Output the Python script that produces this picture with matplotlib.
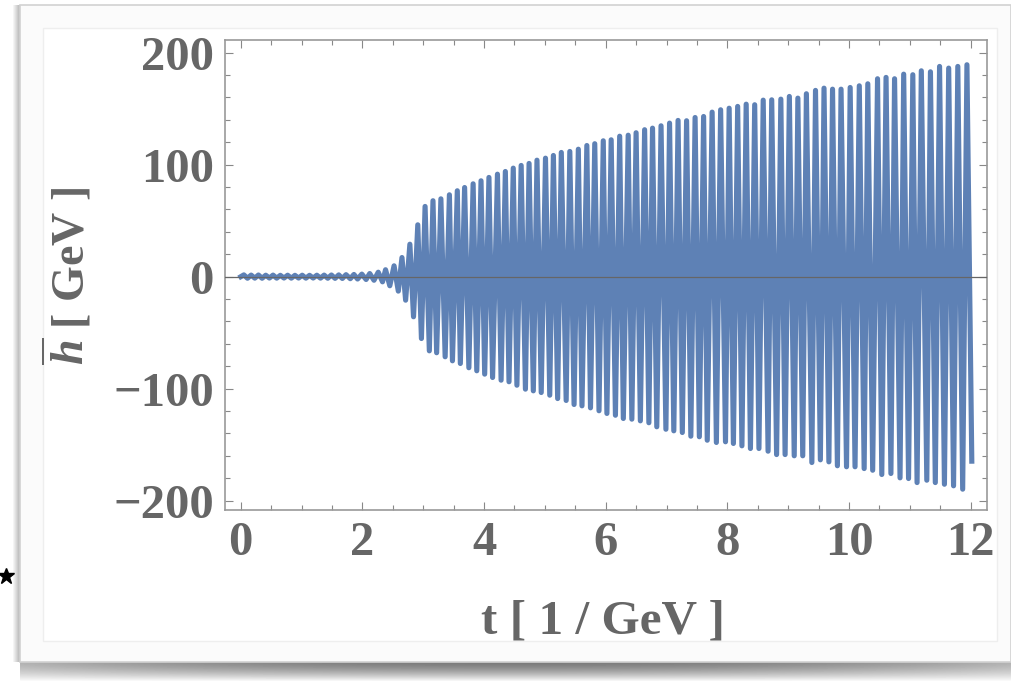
import numpy as np
import matplotlib
matplotlib.use("Agg")
import matplotlib.pyplot as plt
from matplotlib.ticker import MultipleLocator
from matplotlib.patches import Rectangle

# extrema of h-bar (t in 1/GeV, h in GeV)
t_up = [0.05, 0.17, 0.29, 0.41, 0.53, 0.65, 0.77, 0.89, 1.01, 1.13, 1.25, 1.37,
        1.49, 1.61, 1.73, 1.86, 1.99, 2.12, 2.26, 2.38, 2.52, 2.65, 2.78, 2.91,
        3.03, 3.16, 3.29, 3.43, 3.56, 3.68, 3.82, 3.95, 4.08, 4.22, 4.35, 4.48,
        4.61, 4.74, 4.87, 5.01, 5.14, 5.27, 5.41, 5.55, 5.69, 5.82, 5.96, 6.09,
        6.23, 6.37, 6.50, 6.64, 6.77, 6.91, 7.05, 7.19, 7.33, 7.47, 7.61,
        7.75, 7.89, 8.03, 8.17, 8.31, 8.45, 8.59, 8.73, 8.88, 9.02, 9.16, 9.30,
        9.45, 9.59, 9.73, 9.87, 10.02, 10.17, 10.31, 10.47, 10.61, 10.75, 10.90,
        11.05, 11.19, 11.34, 11.49, 11.64, 11.79, 11.94]
h_up = [1.6, 1.4, 1.5, 1.3, 1.4, 1.2, 1.3, 1.2, 1.3, 1.2, 1.3, 1.4,
        1.5, 1.6, 1.8, 2.0, 2.3, 2.8, 4.0, 6.2, 9.7, 17.1, 29.0, 46.3,
        62.7, 67.8, 69.5, 73.1, 76.7, 79.6, 82.9, 85.6, 88.6, 91.5, 93.9, 96.9,
        99.3, 101.1, 104.0, 105.8, 108.2, 110.9, 111.8, 113.8, 117.1, 118.7, 121.3, 122.2,
        125.4, 126.3, 128.5, 131.2, 132.6, 134.7, 137.1, 139.5, 139.2, 142.1, 143.0,
        146.9, 149.0, 150.4, 152.0, 154.0, 153.5, 157.6, 157.9, 158.5, 160.9, 159.4, 163.3,
        166.3, 168.3, 167.4, 167.4, 168.9, 170.4, 172.2, 176.7, 177.9, 176.7, 180.8,
        180.3, 183.8, 182.9, 187.7, 186.2, 187.7, 189.2]

t_dn = [0.11, 0.23, 0.35, 0.47, 0.59, 0.71, 0.83, 0.95, 1.07, 1.19, 1.31, 1.43,
        1.55, 1.67, 1.80, 1.92, 2.06, 2.19, 2.33, 2.45, 2.59, 2.71, 2.84, 2.97,
        3.10, 3.22, 3.36, 3.48, 3.61, 3.75, 3.88, 4.01, 4.14, 4.28, 4.41, 4.54,
        4.68, 4.81, 4.94, 5.08, 5.21, 5.35, 5.48, 5.61, 5.75, 5.89, 6.02, 6.16,
        6.29, 6.43, 6.57, 6.71, 6.84, 6.99, 7.12, 7.26, 7.40, 7.54, 7.67,
        7.82, 7.97, 8.10, 8.24, 8.38, 8.52, 8.67, 8.81, 8.95, 9.10, 9.24, 9.39,
        9.53, 9.67, 9.81, 9.96, 10.10, 10.25, 10.39, 10.54, 10.69, 10.84, 10.98,
        11.12, 11.28, 11.42, 11.57, 11.72, 11.87]
h_dn = [-1.4, -1.3, -1.4, -1.2, -1.3, -1.2, -1.3, -1.2, -1.3, -1.2, -1.3, -1.4,
        -1.5, -1.6, -1.8, -2.1, -2.5, -3.2, -4.6, -8.1, -12.9, -21.0, -35.8, -55.2,
        -66.2, -67.9, -71.5, -75.1, -77.5, -81.3, -84.0, -87.0, -90.0, -92.4, -93.8, -96.9,
        -100.4, -101.9, -103.4, -105.8, -108.8, -110.5, -114.1, -115.3, -117.1, -119.7, -122.1, -123.7,
        -126.6, -127.2, -128.7, -130.4, -134.0, -136.2, -137.6, -139.1, -142.4, -142.9, -146.0,
        -148.0, -147.4, -148.9, -151.0, -153.4, -153.4, -155.8, -158.8, -158.8, -159.9, -159.9, -165.9,
        -163.5, -165.3, -168.8, -169.7, -169.7, -171.3, -172.8, -176.6, -175.7, -179.6, -180.2,
        -183.8, -181.7, -183.8, -185.3, -186.7, -189.7]

t_ends = [0.0, 12.02]
h_ends = [0.0, -164.7]

x_ticks = [0, 2, 4, 6, 8, 10, 12]
y_ticks = [-200, -100, 0, 100, 200]

plt.rcParams['font.family'] = 'Liberation Serif'
plt.rcParams['font.weight'] = 'bold'
plt.rcParams['mathtext.fontset'] = 'custom'
plt.rcParams['mathtext.rm'] = 'Liberation Serif:bold'
plt.rcParams['mathtext.it'] = 'Liberation Serif:italic:bold'
plt.rcParams['mathtext.bf'] = 'Liberation Serif:bold'

W, H = 1011, 682
fig = plt.figure(figsize=(W / 100, H / 100), dpi=100)

# page-like backdrop with drop shadow (pixel coordinates)
bg = fig.add_axes([0, 0, 1, 1], zorder=0)
bg.set_xlim(0, W)
bg.set_ylim(H, 0)
bg.axis('off')
bg.add_patch(Rectangle((20, 5), W - 20, 657, facecolor='#fbfbfb', edgecolor='#d2d2d2', lw=1.2))
bg.add_patch(Rectangle((43, 28), 954, 613, facecolor='white', edgecolor='#eeeeee', lw=1.0))
left_sh = np.tile(np.linspace(1.0, 0.72, 8), (2, 1))
bg.imshow(left_sh, cmap='gray', vmin=0, vmax=1, extent=(12, 20, 662, 5), aspect='auto')
vert = np.linspace(0.0, 1.0, 20)[:, None] ** 1.5
xs = np.linspace(-1, 1, W - 20)[None, :]
dark = 0.48 + 0.22 * xs ** 2
bottom_sh = dark + (1 - dark) * vert
bg.imshow(np.clip(bottom_sh, 0, 1), cmap='gray', vmin=0, vmax=1,
          extent=(20, W, 682, 662), aspect='auto')
bg.plot([6], [576], marker='*', color='black', ms=12)

ax = fig.add_axes([225 / W, 1 - 510 / H, 762 / W, 470 / H], zorder=1)

t = np.concatenate([t_up, t_dn, t_ends])
h = np.concatenate([h_up, h_dn, h_ends])
order = np.argsort(t)
ax.plot(t[order], h[order], color='#5e81b5', lw=3.7, solid_joinstyle='round')
ax.axhline(0, color='#666666', lw=0.9, zorder=3)

ax.set_xlim(-0.26, 12.27)
ax.set_ylim(-208.3, 211.3)
ax.set_xticks(x_ticks)
ax.set_yticks(y_ticks)
ax.xaxis.set_minor_locator(MultipleLocator(0.5))
ax.yaxis.set_minor_locator(MultipleLocator(20))
ax.tick_params(which='both', direction='in', top=True, right=True,
               color='#888888', width=0.8, labelcolor='#666666', labelsize=35)
ax.tick_params(which='major', length=6)
ax.tick_params(which='minor', length=3.5)
ax.tick_params(axis='y', pad=8)
ax.tick_params(axis='x', pad=8)
for sp in ax.spines.values():
    sp.set_color('#999999')
    sp.set_linewidth(1.2)

fig.text(603 / W, 1 - 621 / H, 't [ 1 / GeV ]', ha='center', va='center',
         fontsize=35.5, color='#666666', fontweight='bold')
fig.text(68 / W, 1 - 276 / H, r'$\overline{h}$ [ GeV ]', ha='center', va='center',
         rotation=90, fontsize=33, color='#666666', fontweight='bold')

fig.savefig('out.png', dpi=100)
